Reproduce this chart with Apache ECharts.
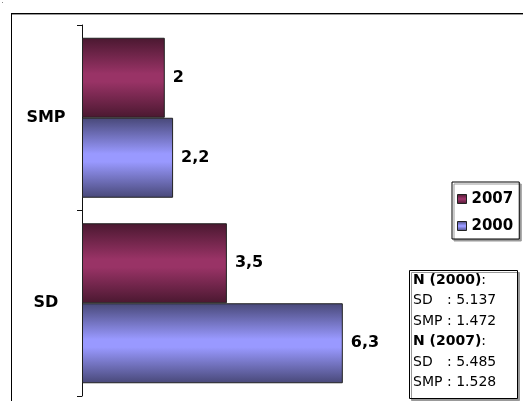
<!DOCTYPE html>
<html>
<head>
<meta charset="utf-8">
<script src="https://cdn.jsdelivr.net/npm/echarts@6/dist/echarts.min.js"></script>
<style>html,body{margin:0;padding:0;background:#fff}#c{width:523px;height:401px}</style>
</head>
<body>
<div id="c"></div>
<script>
const categories = ['SD', 'SMP'];
const seriesNames = ['2007', '2000'];
const values2007 = [3.5, 2];
const values2000 = [6.3, 2.2];
const noteLines = [
  ['N (2000)', null],
  ['SD', '5.137'],
  ['SMP', '1.472'],
  ['N (2007)', null],
  ['SD', '5.485'],
  ['SMP', '1.528']
];

const FONT = '"DejaVu Sans", Arial, sans-serif';
function grad(dark, light, dark2) {
  return new echarts.graphic.LinearGradient(0, 0, 0, 1, [
    { offset: 0, color: dark },
    { offset: 0.45, color: light },
    { offset: 0.55, color: light },
    { offset: 1, color: dark2 }
  ]);
}
const plum = grad('#4a1830', '#993366', '#4a1830');
const lav = grad('#484878', '#9999ff', '#484878');

const labelCfg = {
  show: true, position: 'right', distance: 8,
  fontFamily: FONT, fontSize: 16, fontWeight: 'bold', color: '#000',
  formatter: p => String(p.value).replace('.', ',')
};

const noteGraphics = [];
noteLines.forEach((ln, i) => {
  const y = 281 + i * 20.5;
  let text;
  if (ln[1] === null) {
    text = '{b|' + ln[0] + '}{n|:}';
  } else {
    text = '{k|' + ln[0] + '}{n|: ' + ln[1] + '}';
  }
  noteGraphics.push({
    type: 'text', left: 413, top: y - 8,
    style: {
      text: text,
      rich: {
        b: { fontFamily: FONT, fontSize: 14, fontWeight: 'bold', fill: '#000', lineHeight: 16 },
        n: { fontFamily: FONT, fontSize: 14, fill: '#000', lineHeight: 16 },
        k: { fontFamily: FONT, fontSize: 14, fill: '#000', width: 34, lineHeight: 16 }
      }
    }
  });
});

const chart = echarts.init(document.getElementById('c'), null, { renderer: 'canvas' });
chart.setOption({
  animation: false,
  backgroundColor: '#fff',
  grid: { left: 82, top: 25, width: 414, height: 371 },
  xAxis: { type: 'value', min: 0, max: 10, show: false },
  yAxis: {
    type: 'category', data: categories,
    axisLine: { lineStyle: { color: '#111', width: 1 } },
    axisTick: { show: true, length: 5, lineStyle: { color: '#111' } },
    axisLabel: { fontFamily: FONT, fontSize: 16, fontWeight: 'bold', color: '#000', align: 'center', margin: 36 }
  },
  legend: {
    data: ['2007', '2000'], orient: 'vertical', left: 452, top: 182,
    padding: [9, 6, 5, 5], itemGap: 11, itemWidth: 9, itemHeight: 9,
    borderColor: '#000', borderWidth: 1, backgroundColor: '#fff',
    shadowColor: '#999', shadowOffsetX: 2, shadowOffsetY: 2, shadowBlur: 0,
    icon: 'rect',
    itemStyle: { borderColor: '#222', borderWidth: 1 },
    textStyle: { fontFamily: FONT, fontSize: 15, fontWeight: 'bold', color: '#000', lineHeight: 16, padding: [0, 0, 0, 0] }
  },
  series: [
    { name: seriesNames[0], type: 'bar', data: values2007, barWidth: 80, barGap: '0%',
      itemStyle: { color: plum, borderColor: '#222', borderWidth: 1 }, label: labelCfg },
    { name: seriesNames[1], type: 'bar', data: values2000, barWidth: 80, barGap: '0%',
      itemStyle: { color: lav, borderColor: '#222', borderWidth: 1 }, label: labelCfg }
  ],
  graphic: [
    { type: 'rect', shape: { x: 2, y: 2, width: 1, height: 1 }, style: { fill: '#888' } },
    { type: 'line', shape: { x1: 11, y1: 13.5, x2: 523, y2: 13.5 }, style: { stroke: '#000', lineWidth: 1 } },
    { type: 'line', shape: { x1: 11, y1: 14.5, x2: 523, y2: 14.5 }, style: { stroke: '#999', lineWidth: 1 } },
    { type: 'line', shape: { x1: 11.5, y1: 13, x2: 11.5, y2: 401 }, style: { stroke: '#000', lineWidth: 1 } },
    { type: 'rect', shape: { x: 409.5, y: 270.5, width: 108, height: 128 },
      style: { fill: '#fff', stroke: '#000', lineWidth: 1, shadowColor: '#999', shadowOffsetX: 2, shadowOffsetY: 2, shadowBlur: 0 } }
  ].concat(noteGraphics)
});
</script>
</body>
</html>
